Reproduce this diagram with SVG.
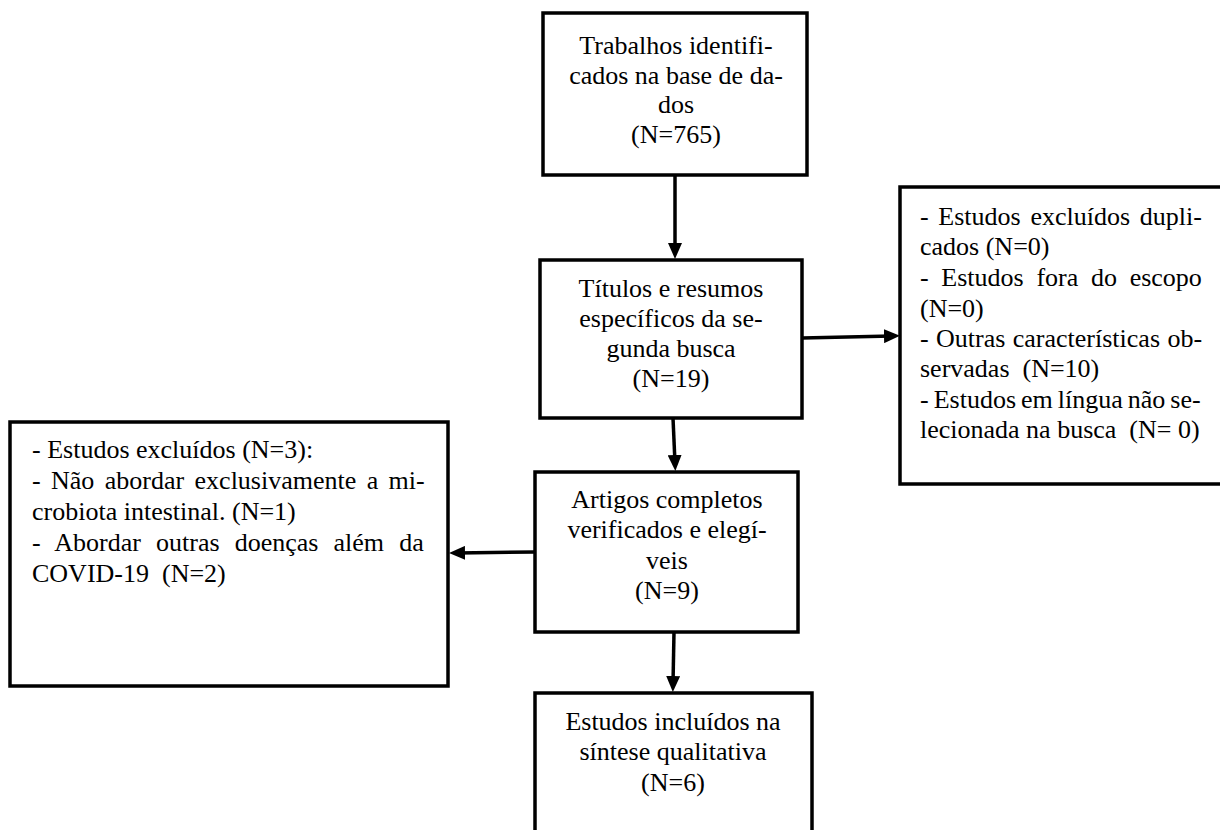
<svg xmlns="http://www.w3.org/2000/svg" width="1220" height="830" viewBox="0 0 1220 830">
<style>
.box{fill:#fff;stroke:#000;stroke-width:3.5}
.t{font-family:"Liberation Serif","Times New Roman",serif;font-size:26px;fill:#000}
.c{text-anchor:middle}
.edge{stroke:#000;stroke-width:3.5;fill:none}
</style>
<defs>
<marker id="ah" markerUnits="userSpaceOnUse" markerWidth="16" markerHeight="14" refX="8" refY="7" orient="auto">
<path d="M0,0 L16,7 L0,14 z" fill="#000"/>
</marker>
</defs>
<rect width="1220" height="830" fill="#fff"/>
<g id="connectors">
<line class="edge" x1="675" y1="175" x2="675" y2="251" marker-end="url(#ah)"/>
<line class="edge" x1="802" y1="338" x2="892" y2="336" marker-end="url(#ah)"/>
<line class="edge" x1="673" y1="418" x2="675" y2="463" marker-end="url(#ah)"/>
<line class="edge" x1="535" y1="552" x2="457" y2="553" marker-end="url(#ah)"/>
<line class="edge" x1="674" y1="632" x2="673" y2="684" marker-end="url(#ah)"/>
</g>
<g id="n1">
<rect class="box" x="543" y="13" width="264" height="162"/>
<text class="t c" x="676" y="54">Trabalhos identifi-</text>
<text class="t c" x="676" y="84">cados na base de da-</text>
<text class="t c" x="676" y="113">dos</text>
<text class="t c" x="676" y="143">(N=765)</text>
</g>
<g id="n2">
<rect class="box" x="540" y="260" width="262" height="158"/>
<text class="t c" x="671" y="297">Títulos e resumos</text>
<text class="t c" x="671" y="327">específicos da se-</text>
<text class="t c" x="671" y="357">gunda busca</text>
<text class="t c" x="671" y="387">(N=19)</text>
</g>
<g id="n3">
<rect class="box" x="900" y="187" width="330" height="297"/>
<text class="t" x="920" y="225" word-spacing="3.2">- Estudos excluídos dupli-</text>
<text class="t" x="920" y="255">cados (N=0)</text>
<text class="t" x="920" y="286" word-spacing="6.2">- Estudos fora do escopo</text>
<text class="t" x="920" y="317">(N=0)</text>
<text class="t" x="920" y="347" word-spacing="0.9">- Outras características ob-</text>
<text class="t" x="920" y="377" xml:space="preserve">servadas  (N=10)</text>
<text class="t" x="920" y="408" word-spacing="-1.5">- Estudos em língua não se-</text>
<text class="t" x="920" y="438" xml:space="preserve">lecionada na busca  (N= 0)</text>
</g>
<g id="n4">
<rect class="box" x="535" y="472" width="263" height="160"/>
<text class="t c" x="667" y="508">Artigos completos</text>
<text class="t c" x="667" y="538">verificados e elegí-</text>
<text class="t c" x="667" y="569">veis</text>
<text class="t c" x="667" y="599">(N=9)</text>
</g>
<g id="n5">
<rect class="box" x="10" y="422" width="438" height="264"/>
<text class="t" x="32" y="458">- Estudos excluídos (N=3):</text>
<text class="t" x="32" y="489" word-spacing="3.9">- Não abordar exclusivamente a mi-</text>
<text class="t" x="32" y="520">crobiota intestinal. (N=1)</text>
<text class="t" x="32" y="551" word-spacing="8.6">- Abordar outras doenças além da</text>
<text class="t" x="32" y="582" xml:space="preserve">COVID-19  (N=2)</text>
</g>
<g id="n6">
<rect class="box" x="535" y="693" width="277" height="150"/>
<text class="t c" x="673" y="730">Estudos incluídos na</text>
<text class="t c" x="673" y="760">síntese qualitativa</text>
<text class="t c" x="673" y="791">(N=6)</text>
</g>
</svg>
